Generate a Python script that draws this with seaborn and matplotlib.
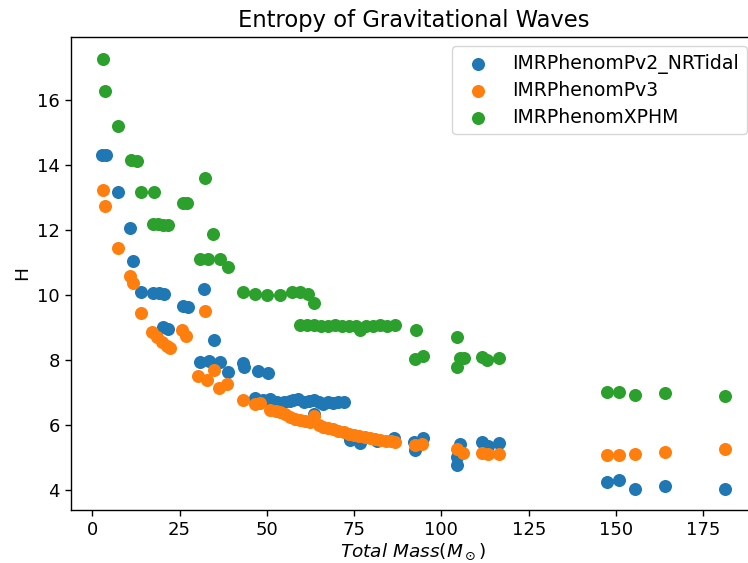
import matplotlib
matplotlib.use("Agg")
from matplotlib import pyplot as plt
import numpy as np
import pandas as pd
import seaborn as sns

# values (x = total mass, y = entropy H)
nrtidal_mass = [2.8, 3.8, 7.5, 10.9, 11.8, 14.0, 17.5, 19.0, 20.5, 20.3, 21.8,
                26.1, 27.3, 32.1, 34.9, 30.9, 33.3, 36.6, 38.9, 43.1, 43.5,
                47.6, 50.2,
                46.7, 49.0, 50.8, 53.0, 54.8, 56.5, 57.6, 59.0, 60.5, 62.0,
                63.4, 65.0, 66.2, 67.5, 69.0, 70.5, 72.0, 63.4,
                73.9, 76.7, 81.5, 86.3, 92.0, 92.5, 94.7,
                105.4, 104.5, 104.5, 111.6, 113.2, 116.6,
                147.5, 150.9, 155.3, 164.1, 181.3]
nrtidal_H = [14.3, 14.3, 13.16, 12.06, 11.05, 10.1, 10.08, 10.06, 10.05, 9.03, 8.97,
             9.66, 9.64, 10.18, 8.62, 7.95, 7.97, 7.95, 7.64, 7.9, 7.78,
             7.67, 7.61,
             6.85, 6.78, 6.8, 6.7, 6.72, 6.75, 6.78, 6.8, 6.72, 6.75,
             6.77, 6.7, 6.65, 6.7, 6.68, 6.7, 6.7, 6.35,
             5.55, 5.44, 5.5, 5.62, 5.49, 5.25, 5.62,
             5.42, 5.02, 4.77, 5.49, 5.35, 5.44,
             4.24, 4.31, 4.03, 4.14, 4.03]

pv3_mass = [3.1, 3.7, 7.5, 10.9, 11.8, 14.0, 17.0, 18.5, 20.0, 21.3, 22.2,
            25.7, 26.9, 32.3, 30.4, 32.8, 34.9, 36.4, 38.6,
            43.1, 46.7, 48.1, 50.8, 52.5, 53.8, 55.3, 56.7, 58.0, 59.5,
            61.0, 62.3, 63.5, 64.8, 66.2, 67.5, 69.0, 70.5, 72.0, 73.5,
            75.0, 76.5, 78.0, 79.5, 81.0, 82.5, 84.0, 85.5, 86.7,
            92.5, 94.4, 104.6, 106.3, 111.6, 113.2, 116.6,
            147.5, 150.9, 155.3, 164.1, 181.3]
pv3_H = [13.23, 12.75, 11.44, 10.58, 10.36, 9.44, 8.88, 8.72, 8.57, 8.45, 8.38,
         8.94, 8.74, 9.5, 7.52, 7.38, 7.69, 7.13, 7.28,
         6.79, 6.65, 6.69, 6.48, 6.45, 6.41, 6.33, 6.26, 6.2, 6.15,
         6.12, 6.1, 6.27, 6.02, 5.95, 5.9, 5.87, 5.82, 5.78, 5.74,
         5.7, 5.67, 5.64, 5.6, 5.58, 5.55, 5.52, 5.5, 5.48,
         5.38, 5.42, 5.28, 5.15, 5.15, 5.11, 5.11,
         5.07, 5.09, 5.11, 5.16, 5.26]

xphm_mass = [3.1, 3.5, 7.5, 11.2, 12.8, 14.0, 17.6, 26.1, 27.2, 32.4,
             17.5, 18.9, 20.3, 21.8, 34.7, 30.8, 33.2, 36.6, 39.0,
             43.1, 46.7, 50.0, 53.8, 57.2, 59.5, 61.9, 63.4,
             59.5, 61.5, 63.5, 65.5, 67.5, 69.5, 71.5, 73.5, 75.5, 76.7,
             78.5, 80.5, 82.5, 84.5, 86.7,
             92.8, 92.5, 94.7, 104.5, 105.4, 106.5, 104.5,
             111.6, 113.1, 116.5,
             147.5, 150.9, 155.3, 164.1, 181.3]
xphm_H = [17.28, 16.29, 15.2, 14.15, 14.12, 13.17, 13.17, 12.84, 12.84, 13.61,
          12.2, 12.18, 12.17, 12.15, 11.88, 11.11, 11.11, 11.11, 10.87,
          10.1, 10.05, 10.0, 10.0, 10.1, 10.1, 10.05, 9.76,
          9.07, 9.08, 9.07, 9.06, 9.04, 9.08, 9.05, 9.06, 9.04, 8.94,
          9.06, 9.05, 9.07, 9.06, 9.07,
          8.92, 8.05, 8.12, 8.71, 8.06, 8.06, 7.78,
          8.09, 8.0, 8.06,
          7.01, 7.03, 6.94, 6.98, 6.9]

series = [("IMRPhenomPv2_NRTidal", nrtidal_mass, nrtidal_H),
          ("IMRPhenomPv3", pv3_mass, pv3_H),
          ("IMRPhenomXPHM", xphm_mass, xphm_H)]
colors = sns.color_palette("tab10", 3)

fig = plt.figure(figsize=(7.48, 5.63), dpi=100)
# axes runs a little past the right edge, like the cropped reference
ax = fig.add_axes([71 / 748, 53 / 563, 685 / 748, 473.5 / 563])

for (name, mass, H), col in zip(series, colors):
    df = pd.DataFrame({"mass": mass, "H": H})
    sns.scatterplot(data=df, x="mass", y="H", s=88, color=col, linewidth=0,
                    label=name, ax=ax, legend=False)

ax.set_xlim(-6.1, 190.1)
ax.set_ylim(3.39, 17.96)
ax.set_xticks([0, 25, 50, 75, 100, 125, 150, 175])
ax.set_yticks([4, 6, 8, 10, 12, 14, 16])
ax.tick_params(labelsize=13, length=4.4, width=1)
for sp in ax.spines.values():
    sp.set_linewidth(1)

ax.set_title("Entropy of Gravitational Waves", fontsize=16.3, pad=7)
ax.set_xlabel(r"$Total\ Mass (M_\odot)$", fontsize=13.3, labelpad=2)
ax.set_ylabel("H", fontsize=13.3)
ax.legend(loc="upper right", fontsize=13.6, labelspacing=0.4)

fig.savefig("out.png", dpi=100)
